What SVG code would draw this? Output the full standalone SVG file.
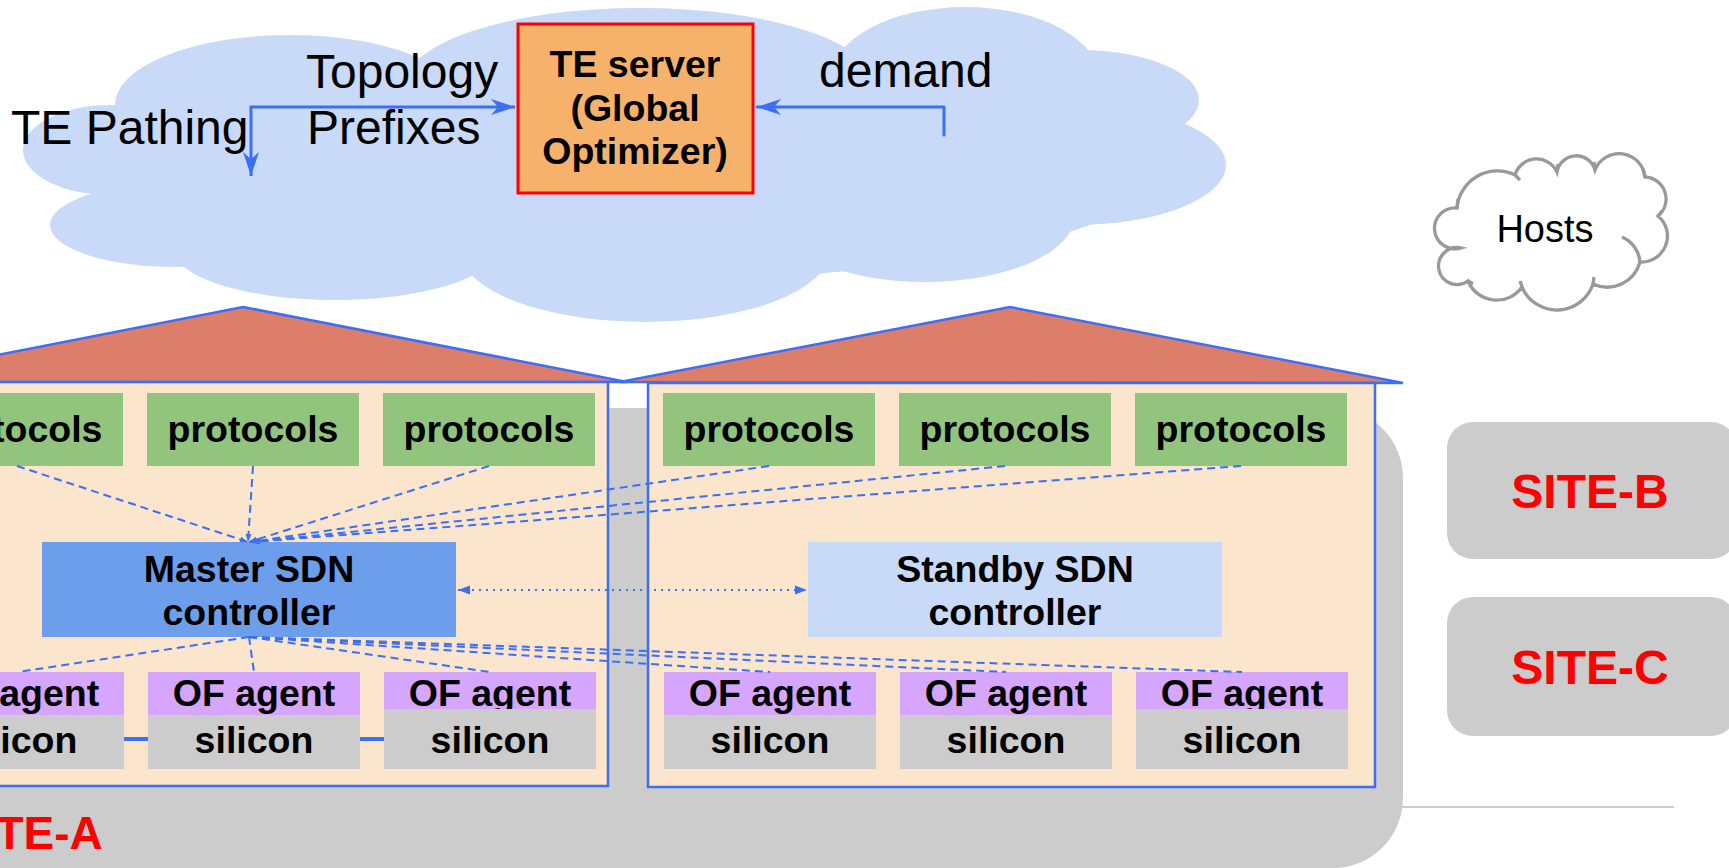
<svg xmlns="http://www.w3.org/2000/svg" width="1729" height="868" viewBox="0 0 1729 868">
<defs>
<style>
.t{font-family:"Liberation Sans",Arial,sans-serif;fill:#000}
.b{font-weight:bold;font-size:37.5px;text-anchor:middle}
.big{font-size:48px}
.site{font-family:"Liberation Sans",Arial,sans-serif;font-weight:bold;fill:#ff0000;font-size:48px}
.proto{fill:#93c47d}
.agent{fill:#d5a6fb}
.sil{fill:#cccccc}
.dash{fill:none;stroke:#3c6ff5;stroke-width:2;stroke-dasharray:8 5}
.solid{fill:none;stroke:#3c6ff5;stroke-width:3}
.wall{stroke:#3c6ff5;stroke-width:2.5}
</style>
<marker id="ah" markerUnits="userSpaceOnUse" markerWidth="30" markerHeight="20" viewBox="-26 -10 28 20" refX="0" refY="0" orient="auto-start-reverse">
<path d="M0,0 L-24,-8 L-17,0 L-24,8 Z" fill="#3c6ff5"/>
</marker>
<marker id="tri" markerUnits="userSpaceOnUse" markerWidth="14" markerHeight="10" viewBox="-13 -5 14 10" refX="0" refY="0" orient="auto-start-reverse">
<path d="M0,0 L-12,-4.5 L-12,4.5 Z" fill="#3c6ff5"/>
</marker>
<marker id="sm" markerUnits="userSpaceOnUse" markerWidth="10" markerHeight="8" viewBox="-9 -4 10 8" refX="0" refY="0" orient="auto">
<path d="M0,0 L-8,-3 L-8,3 Z" fill="#3c6ff5"/>
</marker>
</defs>

<!-- SITE-A background -->
<g id="site-a">
<rect x="-120" y="408" width="1523" height="460" rx="70" fill="#cccccc"/>
<text class="site" x="-48" y="849" style="font-size:46px">SITE-A</text>
</g>
<line x1="1400" y1="807" x2="1674" y2="807" stroke="#cccccc" stroke-width="2"/>

<!-- big cloud -->
<g id="wan-cloud" fill="#c9daf8">
<ellipse cx="110" cy="150" rx="87" ry="45"/>
<ellipse cx="175" cy="225" rx="125" ry="42"/>
<ellipse cx="335" cy="250" rx="160" ry="50"/>
<ellipse cx="645" cy="250" rx="185" ry="72"/>
<ellipse cx="925" cy="215" rx="150" ry="67"/>
<ellipse cx="1075" cy="165" rx="151" ry="60"/>
<ellipse cx="1080" cy="100" rx="119" ry="50"/>
<ellipse cx="965" cy="80" rx="135" ry="73"/>
<ellipse cx="640" cy="85" rx="235" ry="77"/>
<ellipse cx="290" cy="105" rx="175" ry="70"/>
<ellipse cx="640" cy="170" rx="520" ry="110"/>
</g>

<g id="te-server">
<rect x="518" y="24" width="235" height="169" fill="#f6b26b" stroke="#ff0000" stroke-width="3"/>
<text class="t b" x="635" y="77">TE server</text>
<text class="t b" x="635" y="121">(Global</text>
<text class="t b" x="635" y="164">Optimizer)</text>
</g>

<g id="labels">
<text class="t big" x="11" y="144">TE Pathing</text>
<text class="t big" x="306" y="88">Topology</text>
<text class="t big" x="307" y="144">Prefixes</text>
<text class="t big" x="819" y="87">demand</text>
</g>

<!-- houses -->
<g id="house-a">
<polygon points="-141,382 243,307 627,382" fill="#dd7e6b" class="wall"/>
<rect x="-120" y="382" width="728" height="404" fill="#fce5cd" class="wall"/>
</g>
<g id="house-b">
<polygon points="620,382 1010,307 1403,383" fill="#dd7e6b" class="wall"/>
<rect x="648" y="383" width="727" height="404" fill="#fce5cd" class="wall"/>
</g>

<!-- protocols -->
<g id="proto-a1"><rect class="proto" x="-89" y="393" width="212" height="73"/><text class="t b" x="17" y="442">protocols</text></g>
<g id="proto-a2"><rect class="proto" x="147" y="393" width="212" height="73"/><text class="t b" x="253" y="442">protocols</text></g>
<g id="proto-a3"><rect class="proto" x="383" y="393" width="212" height="73"/><text class="t b" x="489" y="442">protocols</text></g>
<g id="proto-b1"><rect class="proto" x="663" y="393" width="212" height="73"/><text class="t b" x="769" y="442">protocols</text></g>
<g id="proto-b2"><rect class="proto" x="899" y="393" width="212" height="73"/><text class="t b" x="1005" y="442">protocols</text></g>
<g id="proto-b3"><rect class="proto" x="1135" y="393" width="212" height="73"/><text class="t b" x="1241" y="442">protocols</text></g>

<!-- controllers -->
<g id="master-sdn">
<rect x="42" y="542" width="414" height="95" fill="#6d9eeb"/>
<text class="t b" x="249" y="582">Master SDN</text>
<text class="t b" x="249" y="625">controller</text>
</g>
<g id="standby-sdn">
<rect x="808" y="542" width="414" height="95" fill="#c9daf8"/>
<text class="t b" x="1015" y="582">Standby SDN</text>
<text class="t b" x="1015" y="625">controller</text>
</g>

<!-- switches -->
<g id="sw-a1"><rect class="agent" x="-88" y="672" width="212" height="43"/><text class="t b" x="18" y="706">OF agent</text><rect class="sil" x="-88" y="715" width="212" height="54"/><text class="t b" x="18" y="753">silicon</text></g>
<g id="sw-a2"><rect class="agent" x="148" y="672" width="212" height="43"/><text class="t b" x="254" y="706">OF agent</text><rect class="sil" x="148" y="715" width="212" height="54"/><text class="t b" x="254" y="753">silicon</text></g>
<g id="sw-a3"><rect class="agent" x="384" y="672" width="212" height="43"/><text class="t b" x="490" y="706">OF agent</text><rect class="sil" x="384" y="709" width="212" height="60"/><text class="t b" x="490" y="753">silicon</text></g>
<g id="sw-b1"><rect class="agent" x="664" y="672" width="212" height="43"/><text class="t b" x="770" y="706">OF agent</text><rect class="sil" x="664" y="715" width="212" height="54"/><text class="t b" x="770" y="753">silicon</text></g>
<g id="sw-b2"><rect class="agent" x="900" y="672" width="212" height="43"/><text class="t b" x="1006" y="706">OF agent</text><rect class="sil" x="900" y="715" width="212" height="54"/><text class="t b" x="1006" y="753">silicon</text></g>
<g id="sw-b3"><rect class="agent" x="1136" y="672" width="212" height="43"/><text class="t b" x="1242" y="706">OF agent</text><rect class="sil" x="1136" y="709" width="212" height="60"/><text class="t b" x="1242" y="753">silicon</text></g>

<!-- other sites -->
<g id="site-b"><rect x="1447" y="422" width="290" height="137" rx="26" fill="#cccccc"/><text class="site" x="1590" y="508" text-anchor="middle">SITE-B</text></g>
<g id="site-c"><rect x="1447" y="597" width="290" height="139" rx="26" fill="#cccccc"/><text class="site" x="1590" y="684" text-anchor="middle">SITE-C</text></g>

<!-- hosts -->
<g id="hosts">
<path d="M1461,248 A20.5,20.5 0 1,1 1457,208 A40.5,40.5 0 0,1 1515,175 A22.5,22.5 0 0,1 1557,172 A19.5,19.5 0 0,1 1595,170 A26,26 0 0,1 1645,177 A22,22 0 0,1 1658,216 A26,26 0 0,1 1640,262 A34,34 0 0,1 1593,284 A38,38 0 0,1 1522,287 A31,31 0 0,1 1468,281 A18.5,18.5 0 1,1 1461,248 Z" fill="#ffffff" stroke="#999999" stroke-width="3.3"/>
<path d="M1457,208 L1458,199 M1515,175 L1520,180 M1557,172 L1558,164 M1595,170 L1594,162 M1645,177 L1643,169 M1658,216 L1662,211 M1622,237 A30,30 0 0,1 1640,262 M1593,284 L1594,277 M1522,287 L1520,281 M1468,281 L1473,284 M1461,248 L1453,248" fill="none" stroke="#999999" stroke-width="3.3"/>
<text class="t" x="1545" y="242" text-anchor="middle" style="font-size:38px">Hosts</text>
</g>

<!-- connectors -->
<g id="connectors">
<polyline class="solid" points="251,176 251,107 515,107" marker-start="url(#ah)" marker-end="url(#ah)"/>
<polyline class="solid" points="944,135 944,107 757,107" stroke-linecap="round" stroke-linejoin="round" marker-end="url(#ah)"/>
<line x1="124" y1="739" x2="148" y2="739" stroke="#3c6ff5" stroke-width="4"/>
<line x1="360" y1="739" x2="384" y2="739" stroke="#3c6ff5" stroke-width="4"/>
<line x1="458" y1="590" x2="807" y2="590" stroke="#3c6ff5" stroke-width="2" stroke-dasharray="2 5" marker-start="url(#tri)" marker-end="url(#tri)"/>
<g class="dash">
<path d="M17,466 L248,542" marker-end="url(#sm)"/>
<path d="M253,466 L248,542" marker-end="url(#sm)"/>
<path d="M489,466 L249,542" marker-end="url(#sm)"/>
<path d="M769,466 L250,542" marker-end="url(#sm)"/>
<path d="M1005,466 L251,542" marker-end="url(#sm)"/>
<path d="M1241,466 L252,542" marker-end="url(#sm)"/>
<path d="M249,637 L18,672"/>
<path d="M249,637 L254,672"/>
<path d="M249,637 L490,672"/>
<path d="M249,637 L770,672"/>
<path d="M249,637 L1006,672"/>
<path d="M249,637 L1242,672"/>
</g>
</g>
</svg>
